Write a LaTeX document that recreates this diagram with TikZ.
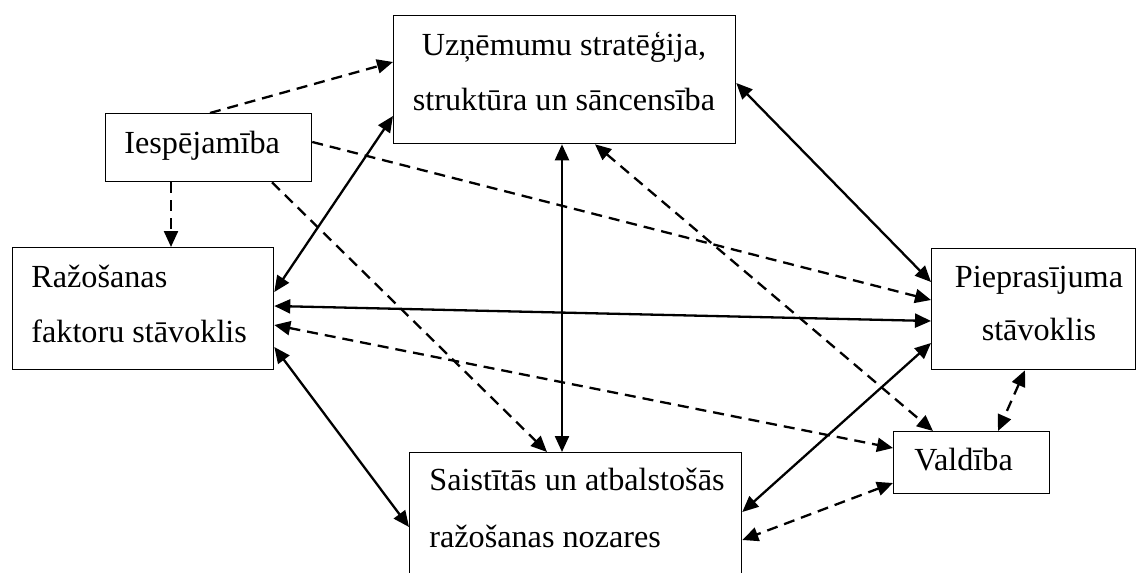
\documentclass[tikz,border=0pt]{standalone}
\usepackage{fontspec}
\setmainfont{Liberation Serif}
\usetikzlibrary{arrows.meta,calc}
\tikzset{
  box/.style={draw, line width=0.65pt, fill=none, inner sep=0pt, anchor=north west},
  txt/.style={inner sep=0pt, font=\fontsize{16.1}{27.5}\selectfont},
  conn/.style={line width=1.15pt, arrows={-Triangle[length=8pt,width=7pt]}},
  biconn/.style={line width=1.15pt, arrows={Triangle[length=8pt,width=7pt]-Triangle[length=8pt,width=7pt]}},
  dsh/.style={dash pattern=on 5.5pt off 3.5pt}
}
\begin{document}
\begin{tikzpicture}[x=0.5pt,y=-0.5pt]
\useasboundingbox (0,0) rectangle (1137,573);
\clip (0,0) rectangle (1137,573);
% boxes
\node[box, minimum width=171pt, minimum height=64pt] (top) at (393,15) {};
\node[box, minimum width=103pt, minimum height=34pt] (iesp) at (105,113) {};
\node[box, minimum width=130.5pt, minimum height=61pt] (raz) at (12,247) {};
\node[box, minimum width=102pt, minimum height=60.5pt] (piep) at (931,248) {};
\node[box, minimum width=78pt, minimum height=31pt] (vald) at (893,431) {};
\node[box, minimum width=166pt, minimum height=90pt] (sais) at (409,452) {};
% texts
\node[txt, anchor=base] at (564,55) {Uzņēmumu stratēģija,};
\node[txt, anchor=base] at (564,110) {struktūra un sāncensība};
\node[txt, anchor=base west] at (124,153) {Iespējamība};
\node[txt, anchor=base west] at (31,287) {Ražošanas};
\node[txt, anchor=base west] at (31,342) {faktoru stāvoklis};
\node[txt, anchor=base] at (1039,287) {Pieprasījuma};
\node[txt, anchor=base] at (1039,340) {stāvoklis};
\node[txt, anchor=base west] at (914,470) {Valdība};
\node[txt, anchor=base west] at (429,490) {Saistītās un atbalstošās};
\node[txt, anchor=base west] at (429,547) {ražošanas nozares};
% connectors
\draw[conn,dsh] ($(iesp.north west)+(105,0)$) -- ($(top.north west)+(0,47)$);
\draw[conn,dsh] ($(iesp.south west)+(66,0)$) -- ($(raz.north west)+(159,0)$);
\draw[conn,dsh] ($(iesp.north east)+(0,29)$) -- ($(piep.north west)+(0,52)$);
\draw[conn,dsh] ($(iesp.south west)+(167,0)$) -- ($(sais.north west)+(138,0)$);
\draw[biconn] ($(raz.north east)+(0,45)$) -- ($(top.north west)+(0,101)$);
\draw[biconn] ($(raz.north east)+(0,59)$) -- ($(piep.north west)+(0,73)$);
\draw[biconn,dsh] ($(raz.north east)+(0,78)$) -- ($(vald.north west)+(0,17)$);
\draw[biconn] ($(raz.north east)+(0,100)$) -- ($(sais.north west)+(0,75)$);
\draw[biconn] ($(top.south west)+(169,0)$) -- ($(sais.north west)+(153,0)$);
\draw[biconn,dsh] ($(top.south west)+(202,0)$) -- ($(vald.north west)+(40,0)$);
\draw[biconn] ($(top.north east)+(0,68)$) -- ($(piep.north west)+(0,34)$);
\draw[biconn] ($(piep.north west)+(0,95)$) -- ($(sais.north east)+(0,60)$);
\draw[biconn,dsh] ($(piep.south west)+(94,0)$) -- ($(vald.north west)+(105,0)$);
\draw[biconn,dsh] ($(vald.north west)+(0,52)$) -- ($(sais.north east)+(0,88)$);
\end{tikzpicture}
\end{document}
